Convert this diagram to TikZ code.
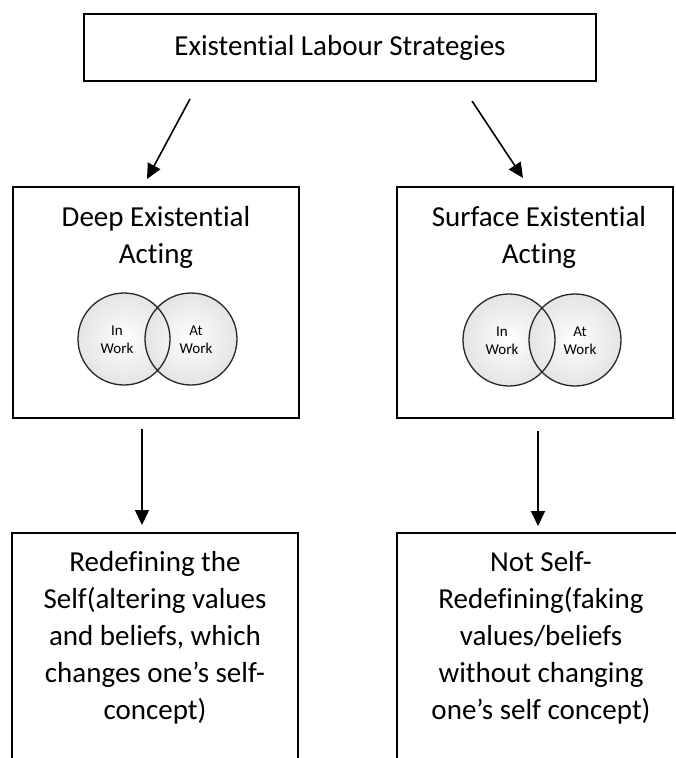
\documentclass[tikz,border=0pt]{standalone}
\usepackage{fontspec}
\setmainfont{Carlito}[Ligatures=NoCommon]
\usetikzlibrary{arrows.meta, positioning}
\definecolor{venngray}{HTML}{E4E4E4}

\begin{document}
\begin{tikzpicture}[x=1pt, y=-1pt,
  every node/.style={font=\fontsize{29}{37}\selectfont},
  block/.style={rectangle, draw=black, line width=2pt, inner sep=0pt},
  caption/.style={align=center, inner sep=0pt, anchor=north},
  venn/.style={circle, minimum size=92pt, inner sep=0pt, inner color=white, outer color=venngray},
  ring/.style={draw=black!85, line width=1.3pt},
  small/.style={font=\fontsize{15}{18}\selectfont, align=center, inner sep=0pt},
  flow/.style={line width=1.6pt, -{Triangle[length=15pt, width=14pt]}},
]
\useasboundingbox (0,0) rectangle (675,758);

% Top box
\node[block, minimum width=512pt, minimum height=67pt] (top) at (340,47.5) {Existential Labour Strategies};

% Middle boxes
\node[block, minimum width=286pt, minimum height=231pt] (midL) at (156,302.5) {};
\node[caption, below=20pt of midL.north] (deepT) {Deep Existential\\Acting};
\node[block, minimum width=276pt, minimum height=231pt] (midR) at (535,302.5) {};
\node[caption, below=20pt of midR.north, xshift=4pt] (surfT) {Surface Existential\\Acting};

% Venn circles
\node[venn] (inL) at (124,339) {};
\node[venn] (atL) at (191,339) {};
\draw[ring] (inL.center) circle[radius=46pt] (atL.center) circle[radius=46pt];
\node[small] (inLtxt) at (117,340) {In\\Work};
\node[small] (atLtxt) at (196,340) {At\\Work};

\node[venn] (inR) at (509,340) {};
\node[venn] (atR) at (575,340) {};
\draw[ring] (inR.center) circle[radius=46pt] (atR.center) circle[radius=46pt];
\node[small] (inRtxt) at (502,341) {In\\Work};
\node[small] (atRtxt) at (580,341) {At\\Work};

% Bottom boxes
\node[block, minimum width=286pt, minimum height=257pt] (botL) at (155,661.5) {};
\node[caption, below=19pt of botL.north] (redefT) {Redefining the\\Self(altering values\\and beliefs, which\\changes one’s self-\\concept)};
\node[block, minimum width=288pt, minimum height=257pt] (botR) at (541,661.5) {};
\node[caption, below=19pt of botR.north] (notT) {Not Self-\\Redefining(faking\\values/beliefs\\without changing\\one’s self concept)};

% Arrows
\draw[flow] ([xshift=107pt, yshift=-17pt]top.south west) -- ([xshift=135pt, yshift=7pt]midL.north west);
\draw[flow] ([xshift=-125pt, yshift=-19pt]top.south east) -- ([xshift=127pt, yshift=8pt]midR.north west);
\draw[flow] ([xshift=-14pt, yshift=-10pt]midL.south) -- ([xshift=-13pt, yshift=7pt]botL.north);
\draw[flow] ([xshift=3pt, yshift=-12pt]midR.south) -- ([xshift=-3pt, yshift=6pt]botR.north);

\end{tikzpicture}
\end{document}
